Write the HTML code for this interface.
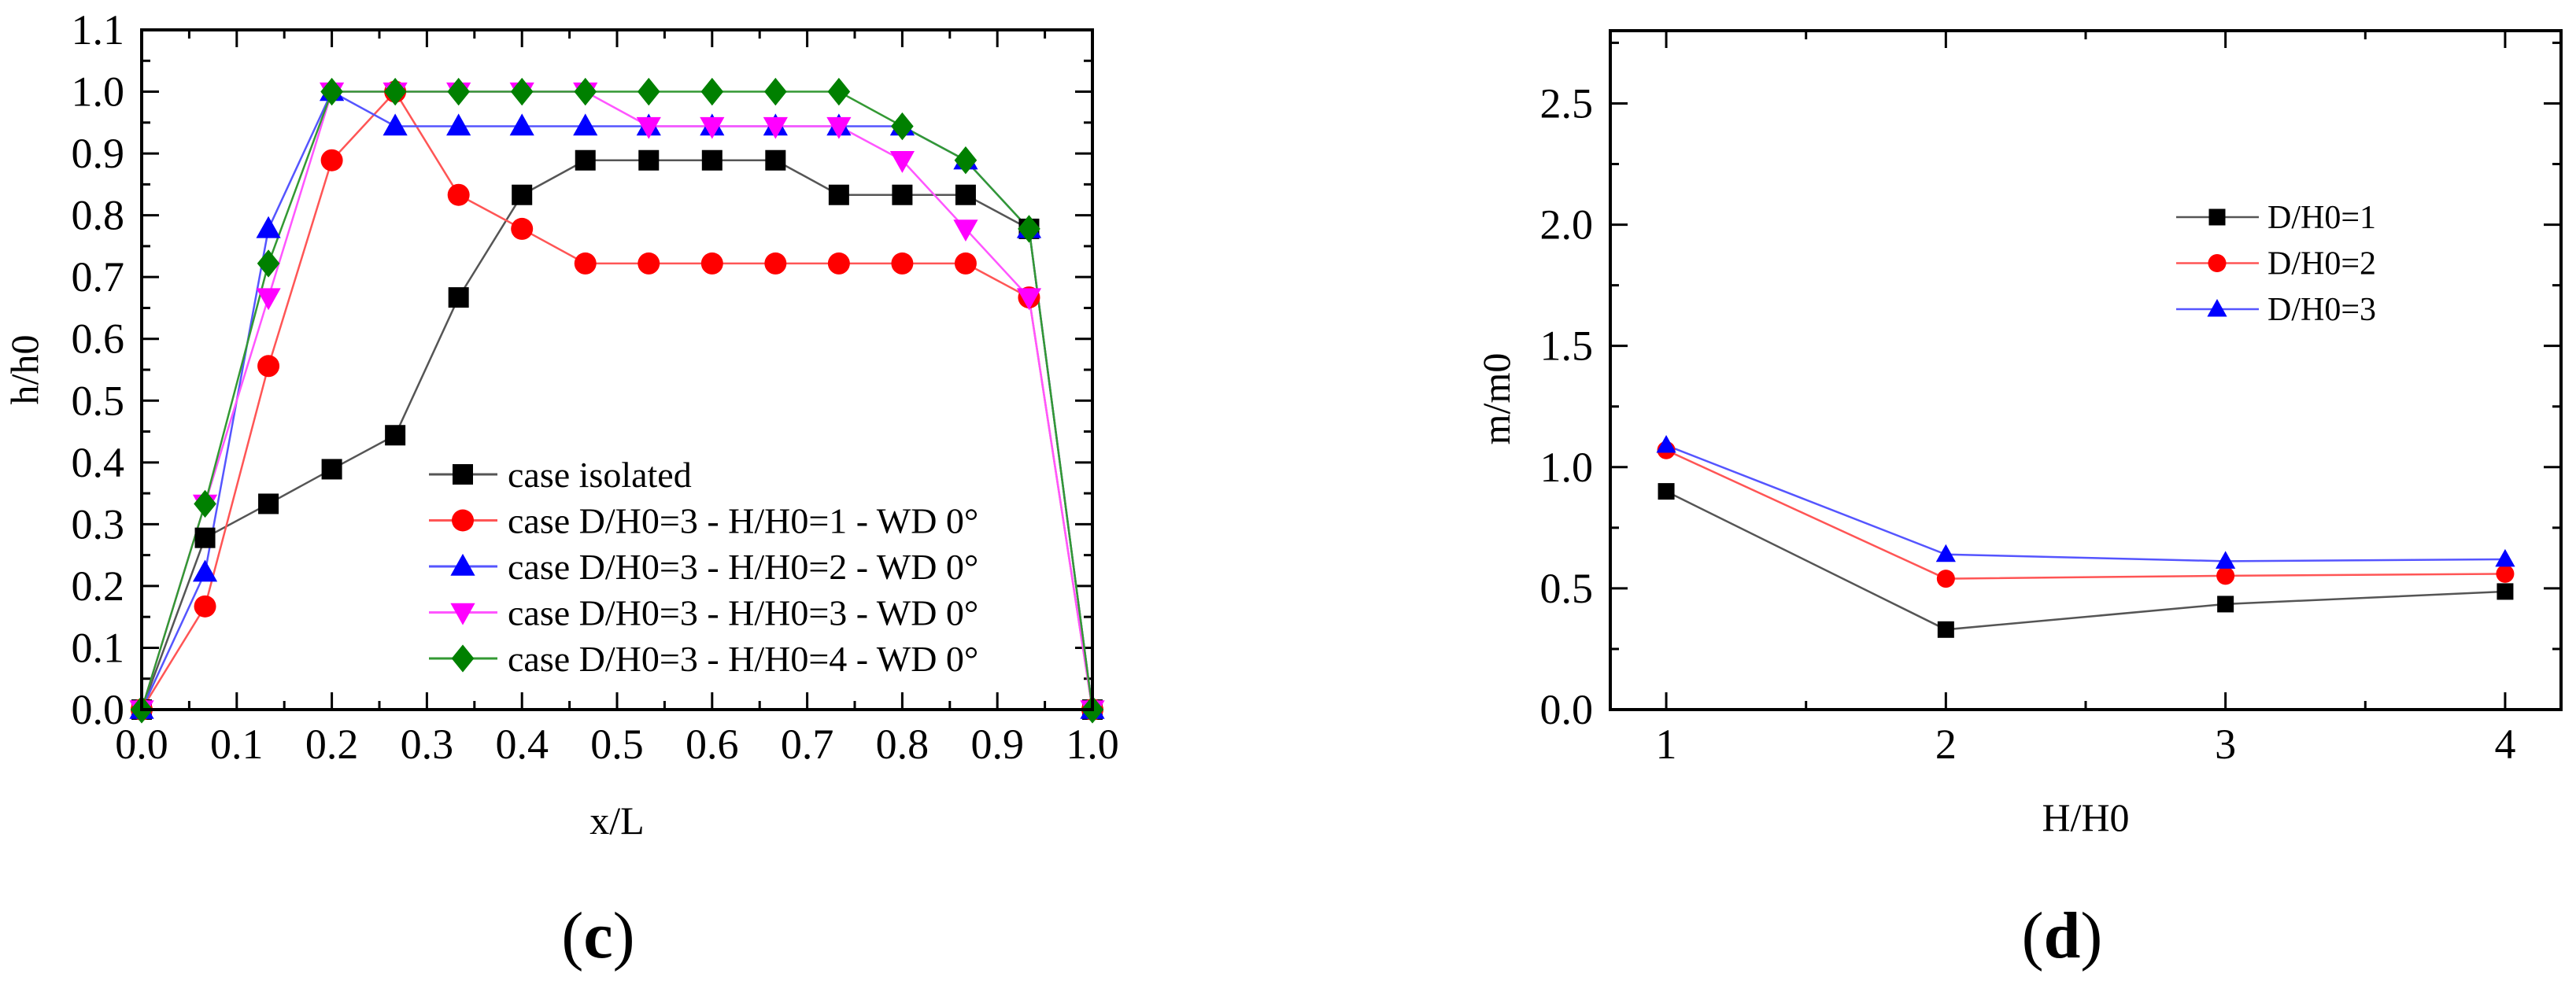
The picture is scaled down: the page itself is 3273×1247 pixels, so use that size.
<!DOCTYPE html>
<html><head><meta charset="utf-8"><style>
html,body{margin:0;padding:0;background:#fff;}
svg{display:block;font-family:"Liberation Serif",serif;}
</style></head><body>
<svg id="fig" width="3273" height="1247" viewBox="0 0 3273 1247" xmlns="http://www.w3.org/2000/svg"></svg>
<script>
// ---- chart (c) data ----
const cX = [0,1/15,2/15,3/15,4/15,5/15,6/15,7/15,8/15,9/15,10/15,11/15,12/15,13/15,14/15,1];
const cIsolated = [0,0.278,0.333,0.389,0.444,0.667,0.833,0.889,0.889,0.889,0.889,0.833,0.833,0.833,0.778,0];
const cH1 = [0,0.167,0.556,0.889,1.0,0.833,0.778,0.722,0.722,0.722,0.722,0.722,0.722,0.722,0.667,0];
const cH2 = [0,0.222,0.778,1.0,0.944,0.944,0.944,0.944,0.944,0.944,0.944,0.944,0.944,0.889,0.778,0];
const cH3 = [0,0.333,0.667,1.0,1.0,1.0,1.0,1.0,0.944,0.944,0.944,0.944,0.889,0.778,0.667,0];
const cH4 = [0,0.333,0.722,1.0,1.0,1.0,1.0,1.0,1.0,1.0,1.0,1.0,0.944,0.889,0.778,0];
const cNames = ["case isolated","case D/H0=3 - H/H0=1 - WD 0°","case D/H0=3 - H/H0=2 - WD 0°","case D/H0=3 - H/H0=3 - WD 0°","case D/H0=3 - H/H0=4 - WD 0°"];
const cXTicks = ["0.0","0.1","0.2","0.3","0.4","0.5","0.6","0.7","0.8","0.9","1.0"];
const cYTicks = ["0.0","0.1","0.2","0.3","0.4","0.5","0.6","0.7","0.8","0.9","1.0","1.1"];
// ---- chart (d) data ----
const dX = [1,2,3,4];
const dD1 = [0.90,0.33,0.435,0.487];
const dD2 = [1.07,0.54,0.552,0.56];
const dD3 = [1.09,0.64,0.612,0.62];
const dNames = ["D/H0=1","D/H0=2","D/H0=3"];
const dXTicks = ["1","2","3","4"];
const dYTicks = ["0.0","0.5","1.0","1.5","2.0","2.5"];

const NS="http://www.w3.org/2000/svg";
const svg=document.getElementById('fig');
function mk(tag,attrs,parent){const e=document.createElementNS(NS,tag);for(const k in attrs)e.setAttribute(k,attrs[k]);(parent||svg).appendChild(e);return e;}
function marker(g,shape,x,y,s,color){
  let e;
  if(shape==='square') e=mk('rect',{x:x-s/2,y:y-s/2,width:s,height:s,fill:color},g);
  else if(shape==='circle') e=mk('circle',{cx:x,cy:y,r:s/2+1,fill:color},g);
  else if(shape==='up') e=mk('polygon',{points:`${x},${y-s*0.62} ${x-s*0.6},${y+s*0.45} ${x+s*0.6},${y+s*0.45}`,fill:color},g);
  else if(shape==='down') e=mk('polygon',{points:`${x},${y+s*0.62} ${x-s*0.6},${y-s*0.45} ${x+s*0.6},${y-s*0.45}`,fill:color},g);
  else e=mk('polygon',{points:`${x},${y-s*0.68} ${x+s*0.55},${y} ${x},${y+s*0.68} ${x-s*0.55},${y}`,fill:color},g);
  
  
  return e;
}
const colors=["#000000","#ff0000","#0000ff","#ff00ff","#008000"];
const lineColors=["#555555","#ff5555","#5555ff","#ff55ff","#339933"];
const shapes=["square","circle","up","down","diamond"];

// ===== chart (c) =====
(function(){
  const L=180,R=1388,T=38,B=902, xmin=0,xmax=1,ymin=0,ymax=1.1;
  const sx=v=>L+(v-xmin)/(xmax-xmin)*(R-L);
  const sy=v=>B-(v-ymin)/(ymax-ymin)*(B-T);
  const g=mk('g',{});
  
  
  // ticks
  for(let i=0;i<=20;i++){const v=i*0.05,x=sx(v),len=i%2?11:22;
    mk('line',{x1:x,y1:B,x2:x,y2:B-len,stroke:'#000','stroke-width':3},g);
    mk('line',{x1:x,y1:T,x2:x,y2:T+len,stroke:'#000','stroke-width':3},g);}
  for(let i=0;i<=22;i++){const v=i*0.05,y=sy(v),len=i%2?11:22;
    mk('line',{x1:L,y1:y,x2:L+len,y2:y,stroke:'#000','stroke-width':3},g);
    mk('line',{x1:R,y1:y,x2:R-len,y2:y,stroke:'#000','stroke-width':3},g);}
  cXTicks.forEach((t,i)=>{const e=mk('text',{x:sx(i*0.1),y:B+62,'font-size':54,'text-anchor':'middle'},g);e.textContent=t;
    });
  cYTicks.forEach((t,i)=>{const e=mk('text',{x:L-22,y:sy(i*0.1)+18,'font-size':54,'text-anchor':'end'},g);e.textContent=t;
    });
  const series=[cIsolated,cH1,cH2,cH3,cH4];
  series.forEach((ys,si)=>{
    const pts=ys.map((v,i)=>sx(cX[i])+','+sy(v)).join(' ');
    const pl=mk('polyline',{points:pts,fill:'none',stroke:lineColors[si],'stroke-width':2.5},g);
    
    
  });
  series.forEach((ys,si)=>{ys.forEach((v,i)=>marker(g,shapes[si],sx(cX[i]),sy(v),26,colors[si]));});
  mk('rect',{x:L,y:T,width:R-L,height:B-T,fill:'none',stroke:'#000','stroke-width':4},g);
  // legend
  const lg=mk('g',{},g);
  
  
  cNames.forEach((n,i)=>{const y=603+i*58.5;
    mk('line',{x1:545,y1:y,x2:632,y2:y,stroke:lineColors[i],'stroke-width':3},lg);
    marker(lg,shapes[i],588,y,26,colors[i]);
    const t=mk('text',{x:645,y:y+16,'font-size':46},lg);t.textContent=n;
    });
  const xt=mk('text',{x:784,y:1060,'font-size':50,'text-anchor':'middle'},g);xt.textContent='x/L';
  
  const yt=mk('text',{x:0,y:0,'font-size':50,'text-anchor':'middle',transform:'translate(48,470) rotate(-90)'},g);yt.textContent='h/h0';
  
  const cap=mk('text',{x:760,y:1217,'font-size':84,'text-anchor':'middle'},g);
  cap.innerHTML='(<tspan font-weight="bold">c</tspan>)';
  
})();

// ===== chart (d) =====
(function(){
  const L=2046,R=3254,T=39,B=902, xmin=0.8,xmax=4.2,ymin=0,ymax=2.8;
  const sx=v=>L+(v-xmin)/(xmax-xmin)*(R-L);
  const sy=v=>B-(v-ymin)/(ymax-ymin)*(B-T);
  const g=mk('g',{});
  
  
  for(let i=2;i<=8;i++){const v=i*0.5,x=sx(v),len=i%2?11:22;
    mk('line',{x1:x,y1:B,x2:x,y2:B-len,stroke:'#000','stroke-width':3},g);
    mk('line',{x1:x,y1:T,x2:x,y2:T+len,stroke:'#000','stroke-width':3},g);}
  for(let i=0;i<=11;i++){const v=i*0.25,y=sy(v),len=i%2?11:22;
    mk('line',{x1:L,y1:y,x2:L+len,y2:y,stroke:'#000','stroke-width':3},g);
    mk('line',{x1:R,y1:y,x2:R-len,y2:y,stroke:'#000','stroke-width':3},g);}
  dXTicks.forEach((t,i)=>{const e=mk('text',{x:sx(dX[i]),y:B+62,'font-size':54,'text-anchor':'middle'},g);e.textContent=t;
    });
  dYTicks.forEach((t,i)=>{const e=mk('text',{x:L-22,y:sy(i*0.5)+18,'font-size':54,'text-anchor':'end'},g);e.textContent=t;
    });
  const series=[dD1,dD2,dD3];
  series.forEach((ys,si)=>{
    const pts=ys.map((v,i)=>sx(dX[i])+','+sy(v)).join(' ');
    const pl=mk('polyline',{points:pts,fill:'none',stroke:lineColors[si],'stroke-width':2.5},g);
    
    
  });
  series.forEach((ys,si)=>{ys.forEach((v,i)=>marker(g,shapes[si],sx(dX[i]),sy(v),21,colors[si]));});
  mk('rect',{x:L,y:T,width:R-L,height:B-T,fill:'none',stroke:'#000','stroke-width':4},g);
  const lg=mk('g',{},g);
  
  
  dNames.forEach((n,i)=>{const y=276+i*58.5;
    mk('line',{x1:2765,y1:y,x2:2870,y2:y,stroke:lineColors[i],'stroke-width':2.5},lg);
    marker(lg,shapes[i],2817,y,21,colors[i]);
    const t=mk('text',{x:2881,y:y+14,'font-size':42},lg);t.textContent=n;
    });
  const xt=mk('text',{x:2650,y:1056,'font-size':50,'text-anchor':'middle'},g);xt.textContent='H/H0';
  
  const yt=mk('text',{x:0,y:0,'font-size':50,'text-anchor':'middle',transform:'translate(1918,507) rotate(-90)'},g);yt.textContent='m/m0';
  
  const cap=mk('text',{x:2620,y:1217,'font-size':84,'text-anchor':'middle'},g);
  cap.innerHTML='(<tspan font-weight="bold">d</tspan>)';
  
})();
</script>
</body></html>
